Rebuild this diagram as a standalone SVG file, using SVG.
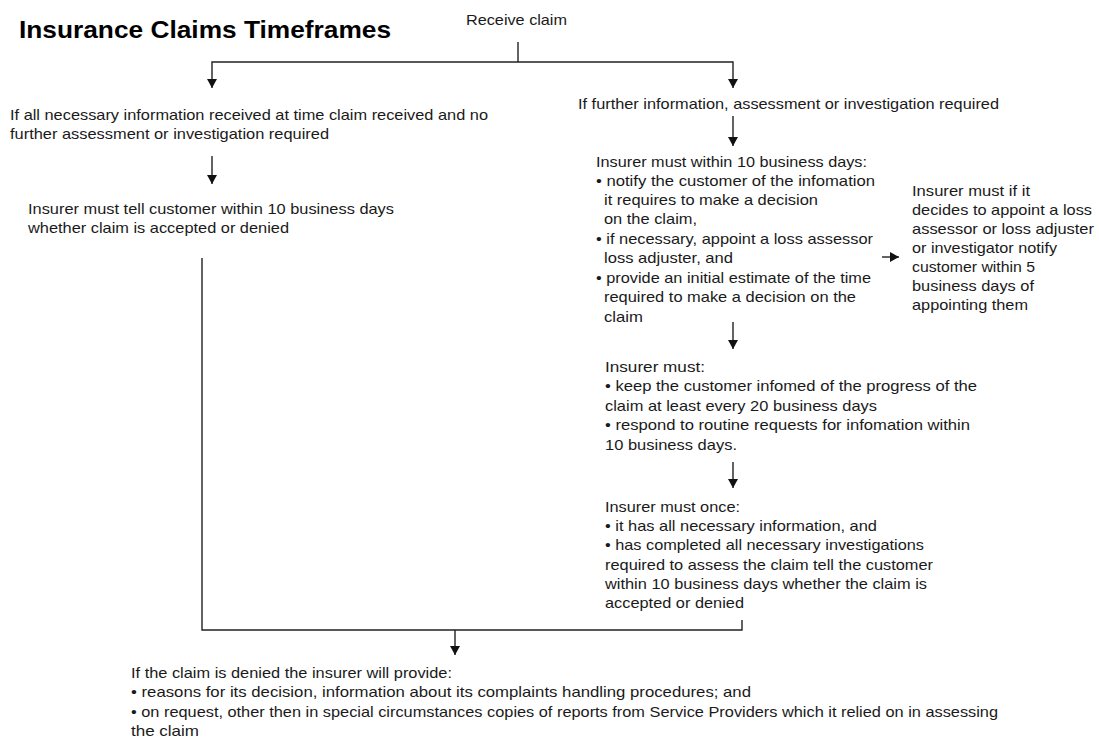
<svg xmlns="http://www.w3.org/2000/svg" width="1099" height="738" viewBox="0 0 1099 738">
<defs>
<marker id="ah" markerUnits="userSpaceOnUse" markerWidth="10" markerHeight="11" refX="9" refY="5" orient="auto">
<path d="M0,0 L9,5 L0,10 Z" fill="#111"/>
</marker>
<marker id="ahs" markerUnits="userSpaceOnUse" markerWidth="8" markerHeight="8" refX="7" refY="4" orient="auto">
<path d="M0,0 L7,4 L0,8 Z" fill="#111"/>
</marker>
<style>
text{font-family:"Liberation Sans",Arial,sans-serif;font-size:15px;fill:#1a1a1a}
.title{font-size:24px;font-weight:bold;fill:#000}
.ln{fill:none;stroke:#222;stroke-width:1.4}
.ar{fill:none;stroke:#222;stroke-width:1.4;marker-end:url(#ah)}
</style>
</defs>
<rect width="1099" height="738" fill="#fff"/>
<g id="title"><text class="title" x="19" y="38" textLength="372" lengthAdjust="spacingAndGlyphs">Insurance Claims Timeframes</text></g>
<g id="receive"><text x="466" y="25" textLength="101" lengthAdjust="spacingAndGlyphs">Receive claim</text></g>
<g id="all-info">
<text x="10" y="120" textLength="478" lengthAdjust="spacingAndGlyphs">If all necessary information received at time claim received and no</text>
<text x="10" y="139" textLength="319" lengthAdjust="spacingAndGlyphs">further assessment or investigation required</text>
</g>
<g id="tell-customer">
<text x="28" y="214" textLength="366" lengthAdjust="spacingAndGlyphs">Insurer must tell customer within 10 business days</text>
<text x="28" y="233" textLength="261" lengthAdjust="spacingAndGlyphs">whether claim is accepted or denied</text>
</g>
<g id="further-info"><text x="578" y="109" textLength="421" lengthAdjust="spacingAndGlyphs">If further information, assessment or investigation required</text></g>
<g id="within-10">
<text x="596" y="167" textLength="271" lengthAdjust="spacingAndGlyphs">Insurer must within 10 business days:</text>
<text x="596" y="186" textLength="279" lengthAdjust="spacingAndGlyphs">• notify the customer of the infomation</text>
<text x="604" y="205" textLength="214" lengthAdjust="spacingAndGlyphs">it requires to make a decision</text>
<text x="604" y="224" textLength="93" lengthAdjust="spacingAndGlyphs">on the claim,</text>
<text x="596" y="244" textLength="277" lengthAdjust="spacingAndGlyphs">• if necessary, appoint a loss assessor</text>
<text x="604" y="263" textLength="129" lengthAdjust="spacingAndGlyphs">loss adjuster, and</text>
<text x="596" y="283" textLength="275" lengthAdjust="spacingAndGlyphs">• provide an initial estimate of the time</text>
<text x="604" y="302" textLength="252" lengthAdjust="spacingAndGlyphs">required to make a decision on the</text>
<text x="604" y="322" textLength="39" lengthAdjust="spacingAndGlyphs">claim</text>
</g>
<g id="appoint">
<text x="912" y="196" textLength="118" lengthAdjust="spacingAndGlyphs">Insurer must if it</text>
<text x="912" y="215" textLength="180" lengthAdjust="spacingAndGlyphs">decides to appoint a loss</text>
<text x="912" y="234" textLength="182" lengthAdjust="spacingAndGlyphs">assessor or loss adjuster</text>
<text x="912" y="253" textLength="145" lengthAdjust="spacingAndGlyphs">or investigator notify</text>
<text x="912" y="272" textLength="123" lengthAdjust="spacingAndGlyphs">customer within 5</text>
<text x="912" y="291" textLength="122" lengthAdjust="spacingAndGlyphs">business days of</text>
<text x="912" y="310" textLength="116" lengthAdjust="spacingAndGlyphs">appointing them</text>
</g>
<g id="keep-informed">
<text x="605" y="372" textLength="100" lengthAdjust="spacingAndGlyphs">Insurer  must:</text>
<text x="605" y="391" textLength="372" lengthAdjust="spacingAndGlyphs">• keep the customer infomed of the progress of the</text>
<text x="605" y="411" textLength="272" lengthAdjust="spacingAndGlyphs">claim at least every 20 business days</text>
<text x="605" y="430" textLength="365" lengthAdjust="spacingAndGlyphs">• respond to routine requests for infomation within</text>
<text x="605" y="450" textLength="132" lengthAdjust="spacingAndGlyphs">10 business days.</text>
</g>
<g id="once">
<text x="605" y="512" textLength="135" lengthAdjust="spacingAndGlyphs">Insurer must once:</text>
<text x="605" y="531" textLength="272" lengthAdjust="spacingAndGlyphs">• it has all necessary information, and</text>
<text x="605" y="550" textLength="319" lengthAdjust="spacingAndGlyphs">• has completed all necessary investigations</text>
<text x="605" y="570" textLength="328" lengthAdjust="spacingAndGlyphs">required to assess the claim tell the customer</text>
<text x="605" y="589" textLength="322" lengthAdjust="spacingAndGlyphs">within 10 business days whether the claim is</text>
<text x="605" y="608" textLength="139" lengthAdjust="spacingAndGlyphs">accepted or denied</text>
</g>
<g id="denied">
<text x="131" y="678" textLength="321" lengthAdjust="spacingAndGlyphs">If the claim is denied the insurer will provide:</text>
<text x="131" y="697" textLength="620" lengthAdjust="spacingAndGlyphs">• reasons for its decision, information about its complaints handling procedures; and</text>
<text x="131" y="717" textLength="867" lengthAdjust="spacingAndGlyphs">• on request, other then in special circumstances copies of reports from Service Providers which it relied on in assessing</text>
<text x="131" y="736" textLength="68" lengthAdjust="spacingAndGlyphs">the claim</text>
</g>
<g id="connectors">
<path class="ln" d="M518,42 V62"/>
<path class="ar" d="M518,62 H212 V88"/>
<path class="ar" d="M518,62 H733 V88"/>
<path class="ar" d="M212,156 V184"/>
<path class="ar" d="M733,116 V146"/>
<path class="ar" d="M882,257 H899"/>
<path class="ar" d="M733,322 V349"/>
<path class="ar" d="M733,462 V488"/>
<path class="ln" d="M202,258 V630 H742 V620"/>
<path class="ar" d="M455,630 V655"/>
</g>
</svg>
